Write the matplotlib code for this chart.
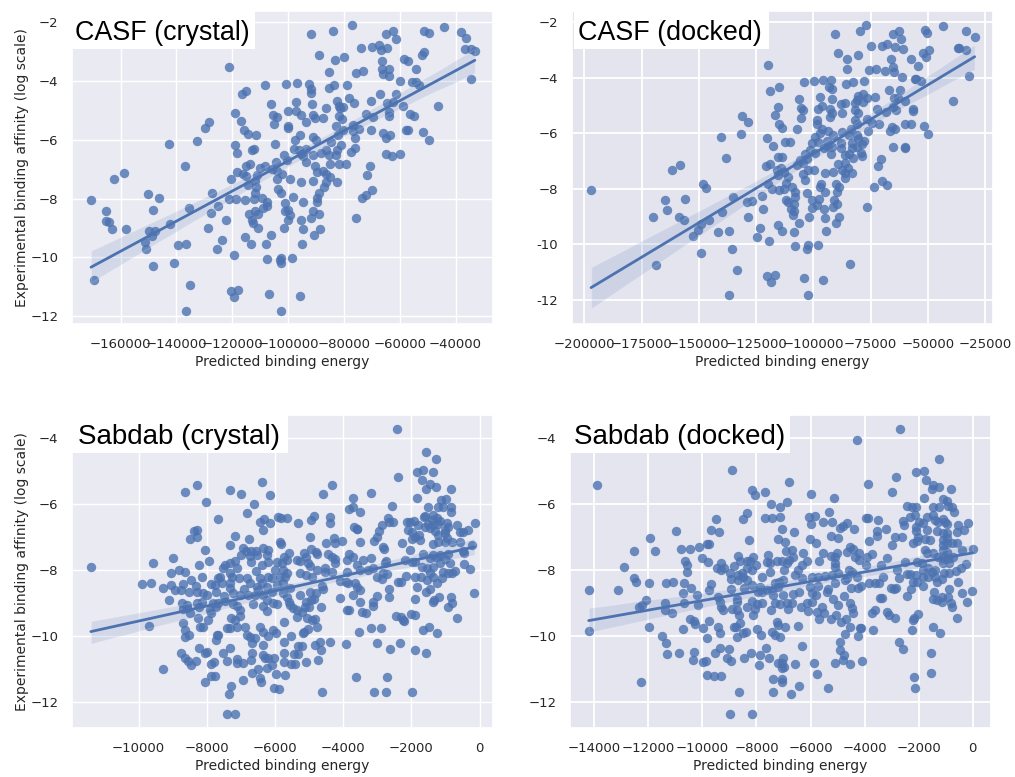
import matplotlib
matplotlib.use('Agg')
import matplotlib.pyplot as plt
from matplotlib.patches import Rectangle
import numpy as np
import seaborn as sns

# values: (predicted energy in thousands, log affinity)
casf_crystal = [
    (-170.6,-8.06),(-169.7,-10.78),(-165.3,-8.41),(-165.3,-8.75),(-164.2,-8.8),(-162.9,-9.02),(-162.3,-7.33),
    (-158.7,-7.13),(-157.9,-9.02),(-150.2,-7.84),(-148.4,-8.38),(-146.1,-7.98),(-151.2,-9.48),(-150.8,-9.72),
    (-149.7,-9.1),(-148.9,-9.28),(-147.5,-9.1),(-148.4,-10.31),(-142.3,-8.86),(-142.8,-6.13),(-139.6,-9.57),
    (-140.8,-10.2),(-137,-6.89),(-136.7,-9.53),(-136.6,-11.83),(-135.3,-10.93),(-135.4,-8.31),(-132.5,-6.03),
    (-129.7,-5.58),(-128.4,-5.38),(-127.2,-7.82),(-127.6,-8.49),(-128.8,-9.01),(-125.1,-8.26),(-125.4,-9.73),
    (-123.8,-9.41),(-122.4,-8.74),(-121.3,-8.02),(-121,-3.53),(-120.4,-7.33),(-119,-5.07),(-119,-6.18),
    (-118.3,-6.45),(-118.2,-7.1),(-118.7,-8.02),(-119.2,-9.91),(-120.4,-11.16),(-118,-11.11),(-119.3,-11.34),
    (-116.8,-5.34),(-116.4,-4.45),(-114.9,-4.32),(-115.7,-5.65),(-114.4,-5.81),(-111.4,-5.83),(-112.8,-6.34),
    (-112.1,-6.32),(-115.2,-6.88),(-113.5,-6.83),(-116.2,-7.15),(-114.9,-7.24),(-114.3,-7.53),(-115.6,-8.06),
    (-115.5,-9.32),(-113.3,-9.53),(-113.9,-8.52),(-112.8,-8.74),(-112.5,-8.83),(-110.7,-8.99),(-112,-8.42),
    (-110.7,-8.52),(-112.2,-8.01),(-111.9,-7.82),(-111.5,-7.6),(-111.9,-7.4),(-111,-7.2),(-110.1,-6.94),
    (-108.3,-6.9),(-109.5,-7.97),(-108.9,-8.31),(-107.7,-8.11),(-107.5,-8.25),(-108.2,-4.14),(-106,-4.77),
    (-105.4,-5.14),(-104.1,-5.22),(-105,-5.45),(-104.6,-6.14),(-107.9,-9.53),(-106,-9.23),(-107.7,-10.07),
    (-106.7,-11.24),(-102.4,-11.83),(-102.6,-10.01),(-102.8,-10.1),(-102.6,-10.19),(-101.6,-9.01),(-98.5,-10.01),
    (-100.7,-4.09),(-96.8,-4.07),(-100.1,-5.03),(-100.2,-5.53),(-100.1,-5.61),(-97.1,-4.7),(-97.2,-5.02),
    (-95.5,-5.14),(-93.6,-5.39),(-97.6,-5.99),(-95.6,-5.84),(-101.4,-6.5),(-100.4,-6.67),(-104.2,-6.74),
    (-105.8,-6.98),(-104,-7.07),(-102.3,-7.16),(-104,-7.32),(-99.2,-7.34),(-103.5,-7.68),(-102.6,-7.82),
    (-101.1,-8.16),(-98.4,-7.94),(-100,-8.38),(-101.1,-8.41),(-99.3,-8.57),(-99.9,-8.72),(-95.3,-7.43),
    (-94.8,-8.11),(-95.2,-8.74),(-94.8,-9.05),(-95,-9.53),(-95.9,-11.33),(-98,-6.32),(-96.2,-6.34),
    (-95.3,-6.49),(-94.5,-6.55),(-93.5,-6.3),(-93.5,-6.75),(-91,-6.5),(-92.5,-4.09),(-91.8,-2.41),
    (-91.8,-4.28),(-91.8,-4.39),(-91.5,-4.77),(-91,-5.16),(-90.5,-5.26),(-89.1,-3.11),(-91,-5.91),
    (-90,-5.99),(-90.4,-6.89),(-89.7,-7.11),(-91.1,-7.41),(-89.1,-7.81),(-89.5,-7.97),(-89.8,-8.11),
    (-91,-8.41),(-91.9,-8.67),(-88.9,-8.53),(-88.6,-9.02),(-90.7,-9.25),(-88.2,-6.43),(-86.6,-6.35),
    (-87.6,-7.06),(-87.2,-7.61),(-86.6,-7.17),(-86.4,-7.43),(-85,-7.27),(-82.6,-7.42),(-85.3,-3.69),
    (-84,-2.3),(-83.2,-3.28),(-80.1,-3.17),(-85.5,-4.22),(-83.7,-4.14),(-86.6,-4.91),(-87.4,-5.25),
    (-82.4,-4.66),(-81.8,-4.84),(-80.5,-4.88),(-81.4,-4.93),(-81.9,-5.17),(-80.7,-5.28),(-82.9,-5.53),
    (-80.4,-5.65),(-82.2,-5.84),(-84.7,-6.06),(-81,-6.16),(-82.4,-6.35),(-85.3,-6.52),(-82.9,-6.53),
    (-84.9,-6.81),(-81.7,-6.81),(-79.3,-6.83),(-78.8,-4.12),(-77.1,-2.08),(-78.2,-4.57),(-76.4,-4.73),
    (-76.9,-5.5),(-76.7,-5.69),(-74.5,-5.63),(-75.9,-5.93),(-76.2,-6.28),(-77.6,-6.42),(-74,-2.86),
    (-75.7,-3.72),(-73,-3.67),(-69.9,-2.84),(-72.2,-5.13),(-69.6,-5.22),(-70.4,-4.67),(-70.4,-5.65),
    (-70.7,-6.9),(-71.6,-7.2),(-70.1,-7.7),(-72,-7.89),(-73.6,-7.97),(-75.5,-8.66),(-67.3,-2.77),
    (-66.8,-2.94),(-64.7,-2.86),(-65.1,-2.41),(-62.6,-2.3),(-61.3,-2.58),(-66.2,-3.32),(-66.2,-3.6),
    (-65.9,-3.76),(-63.8,-3.58),(-63.9,-3.82),(-67.1,-4.42),(-64.7,-4.75),(-62.3,-4.7),(-61.4,-4.44),
    (-63.8,-5.05),(-63.8,-5.18),(-65.9,-5.78),(-64.9,-5.92),(-63.4,-5.83),(-65.1,-6.48),(-62.7,-6.55),
    (-59.9,-6.48),(-59.8,-3.98),(-58.5,-3.24),(-57.2,-3.3),(-54.2,-3.59),(-55.5,-4.02),(-54.2,-4.03),
    (-53,-4.13),(-58.7,-4.83),(-56.3,-5.13),(-54.9,-5.19),(-57.8,-5.66),(-57.1,-5.67),(-51.5,-5.74),
    (-49.4,-6.02),(-52,-3.11),(-51.2,-2.99),(-51.3,-2.28),(-49.6,-2.36),(-46.3,-4.84),(-44.2,-2.14),
    (-37.9,-2.32),(-36.2,-2.53),(-36.7,-2.91),(-34.5,-2.9),(-33.1,-2.97),(-34.6,-3.94),
]

casf_docked = [
    (-197,-8.05),(-170.1,-9.01),(-168.8,-10.76),(-164.9,-8.4),(-163.7,-8.76),(-161.8,-7.33),(-158,-7.13),
    (-158.5,-9.01),(-156.4,-9.11),(-155.9,-8.36),(-152.5,-9.7),(-150.2,-9.47),(-149.2,-9.26),(-148.9,-10.31),
    (-148,-7.82),(-147,-7.97),(-145.4,-9.11),(-141.6,-9.55),(-140.2,-6.12),(-139.9,-8.85),(-138.1,-6.87),
    (-136.7,-9.53),(-136.7,-11.81),(-135.6,-10.16),(-135,-8.31),(-133.2,-10.92),(-131.6,-6.03),(-131.3,-5.37),
    (-128.5,-5.58),(-129,-8.48),(-126.9,-8.43),(-128.5,-9.01),(-124.6,-9.73),(-123.1,-9.41),(-122.5,-8.27),
    (-122.1,-8.73),(-120.7,-7.16),(-120.1,-6.18),(-119.6,-3.54),(-120.1,-11.15),(-119.5,-9.89),(-118.8,-4.46),
    (-118.8,-7.09),(-119.6,-7.81),(-118.2,-8.01),(-118.5,-11.34),(-116.6,-11.1),(-117.7,-6.44),(-116.7,-5.35),
    (-115.3,-5.06),(-114.8,-4.32),(-115.1,-5.66),(-113.7,-5.81),(-115.6,-6.86),(-113.8,-6.84),(-116,-7.32),
    (-114.3,-7.26),(-115.3,-7.5),(-112.8,-7.38),(-115.1,-8.05),(-112.8,-8.01),(-112.4,-6.32),(-110.2,-6.31),
    (-115.6,-9.31),(-113.8,-9.53),(-112.1,-8.4),(-110.9,-7.58),(-111.9,-7.8),(-109.5,-7.93),(-108,-8.12),
    (-108,-8.28),(-110.9,-8.49),(-108.3,-8.53),(-109.7,-8.73),(-108.6,-8.81),(-109,-8.95),(-108.6,-9.55),
    (-108.1,-10.05),(-106.4,-9.23),(-107.3,-5.83),(-106.4,-4.77),(-105.4,-5.1),(-104.4,-5.16),(-105.2,-5.45),
    (-103.9,-4.15),(-99.6,-4.11),(-95.9,-4.08),(-92.1,-4.09),(-104.1,-11.22),(-102.5,-11.81),(-102.9,-10.16),
    (-102.5,-10.03),(-98.1,-10.01),(-102.6,-8.16),(-100.6,-8.4),(-97.7,-8.37),(-100.7,-8.7),(-98.3,-8.57),
    (-95.5,-8.72),(-101.9,-9.01),(-94.9,-9.05),(-94.6,-9.53),(-95.8,-11.3),(-103.8,-7.68),(-104.7,-7.47),
    (-102.3,-7.32),(-99.9,-7.33),(-105.8,-6.96),(-103.8,-6.74),(-107.3,-7.14),(-104.4,-7.08),(-102.9,-6.91),
    (-101.5,-6.6),(-100.6,-6.33),(-99.4,-6.12),(-97.8,-6.3),(-99.3,-6.69),(-97.1,-6),(-96.4,-5.83),
    (-93.6,-5.9),(-98.5,-5.52),(-98.3,-5.65),(-97.8,-5.13),(-96.4,-5.01),(-96.9,-4.7),(-93.2,-4.32),
    (-91.9,-4.4),(-91.9,-4.77),(-92.7,-5.13),(-91.9,-5.25),(-92.7,-5.4),(-90.5,-2.42),(-89.1,-3.12),
    (-91.3,-6.06),(-94.2,-6.26),(-95.3,-6.54),(-93.5,-6.5),(-92,-6.48),(-92.3,-6.74),(-95.1,-7.43),
    (-91.3,-7.4),(-96.8,-7.82),(-97.1,-7.94),(-94.9,-8.1),(-90.1,-7.81),(-88.7,-7.94),(-89.7,-8.1),
    (-91,-8.4),(-89.5,-8.53),(-91.4,-8.67),(-88.7,-9.01),(-90.1,-9.23),(-84.1,-10.7),(-85.2,-3.31),
    (-80.5,-3.18),(-85.5,-3.69),(-85.6,-4.21),(-82.5,-4.15),(-77.9,-4.12),(-79.8,-2.3),(-77.2,-2.1),
    (-74.8,-2.86),(-75.6,-3.73),(-72.6,-3.69),(-87.9,-4.94),(-86.3,-4.9),(-87.3,-5.25),(-80.7,-4.65),
    (-78.3,-4.58),(-76.7,-4.73),(-81.1,-4.8),(-82,-4.92),(-78.3,-4.88),(-81.7,-5.16),(-80.4,-5.28),
    (-82,-5.52),(-81.1,-5.66),(-76.4,-5.49),(-74.5,-5.61),(-76.1,-5.93),(-72.9,-4.68),(-72.4,-5.11),
    (-68.3,-5.23),(-71.2,-5.66),(-83.7,-5.85),(-87.3,-5.96),(-84.6,-6.06),(-81.1,-6.06),(-80.5,-6.18),
    (-77.9,-6.26),(-87.9,-6.33),(-87.8,-6.51),(-83,-6.33),(-83.3,-6.54),(-81.1,-6.48),(-78.8,-6.4),
    (-79.3,-6.69),(-86.2,-6.79),(-84.3,-6.74),(-82.5,-6.87),(-78.9,-6.81),(-89.1,-7.1),(-86,-7.05),
    (-84.8,-7.23),(-87.5,-7.32),(-86,-7.44),(-83.1,-7.42),(-86.2,-7.6),(-70.5,-6.91),(-71.6,-7.16),
    (-70,-7.71),(-67.8,-7.86),(-73.4,-7.95),(-76.6,-8.65),(-70.2,-2.85),(-67.7,-2.79),(-64.2,-2.88),
    (-65.4,-2.42),(-62.5,-2.31),(-61.9,-2.59),(-60.9,-2.95),(-66.2,-3.32),(-65.1,-3.6),(-68.6,-3.76),
    (-64.6,-3.8),(-61.2,-3.98),(-67,-4.42),(-62.2,-4.45),(-64.8,-4.74),(-62.9,-4.72),(-60,-4.82),
    (-65.1,-5.04),(-63.9,-5.17),(-65.8,-5.76),(-64.4,-5.84),(-66.5,-5.91),(-65.1,-6.48),(-60.1,-6.48),
    (-59.8,-6.54),(-59.8,-5.66),(-57.2,-5.67),(-56.4,-5.11),(-56.4,-5.18),(-57.2,-3.31),(-54.5,-3.58),
    (-55.6,-4.03),(-55.2,-4.05),(-53.2,-4.12),(-52,-3.12),(-51,-3.24),(-49.4,-3.01),(-51.1,-2.29),
    (-50.4,-2.38),(-51.6,-5.73),(-49.8,-6.01),(-38.9,-4.83),(-43.3,-2.14),(-33.5,-2.32),(-29.6,-2.53),
    (-36.9,-2.91),(-36.3,-2.91),(-33.4,-2.98),(-32.1,-3.93),
]

sabdab_crystal = [
    (-11.4,-7.9),(-9.91,-8.44),(-9.65,-8.4),(-9.69,-9.71),(-9.57,-7.79),(-9.29,-8.55),(-9.29,-11.0),(-9.1,-8.92),
    (-9.06,-8.45),(-9.04,-8.09),(-9.0,-7.65),(-8.94,-8.6),(-8.81,-8.01),(-8.77,-8.6),(-8.65,-8.07),(-8.69,-8.44),
    (-8.64,-5.63),(-8.28,-5.41),(-8.01,-5.93),(-8.38,-6.81),(-8.28,-6.78),(-8.28,-7.01),(-8.49,-7.06),(-8.06,-7.38),
    (-8.23,-7.85),(-7.94,-7.72),(-8.15,-8.2),(-8.47,-8.31),(-8.33,-8.48),(-8.53,-8.68),(-8.3,-8.67),(-8.1,-8.71),
    (-7.99,-8.76),(-8.73,-9.01),(-8.59,-9.06),(-8.71,-9.18),(-8.59,-9.16),(-8.49,-9.32),(-8.3,-9.01),(-8.22,-9.11),
    (-8.15,-8.96),(-8.71,-9.62),(-8.63,-9.82),(-8.63,-10.03),(-8.52,-9.97),(-8.26,-9.47),(-8.2,-9.72),(-8.12,-9.73),
    (-7.96,-9.52),(-7.91,-9.22),(-7.89,-9.32),(-8.23,-10.36),(-8.76,-10.52),(-8.64,-10.68),(-8.54,-10.75),(-8.45,-10.89),
    (-8.33,-10.76),(-8.06,-10.53),(-8,-10.5),(-8.06,-11.39),(-7.89,-10.86),(-7.78,-10.8),(-7.88,-11.22),(-7.76,-11.22),
    (-7.66,-6.45),(-7.88,-8.44),(-7.76,-8.46),(-7.66,-8.25),(-7.61,-8.22),(-7.57,-8.4),(-7.73,-8.68),(-7.81,-9.01),
    (-7.66,-8.99),(-7.73,-9.11),(-7.71,-9.97),(-7.66,-9.99),(-7.73,-10.13),(-7.54,-10.53),(-7.4,-10.75),(-7.32,-10.38),
    (-7.28,-11.52),(-7.35,-11.78),(-7.42,-12.39),(-7.16,-12.39),(-7.32,-5.57),(-7,-5.7),(-6.61,-5.98),(-6.82,-6.28),
    (-6.38,-5.34),(-6.16,-5.73),(-6.45,-6.54),(-6.31,-6.46),(-6.16,-6.57),(-6.34,-6.78),(-7.18,-6.97),(-6.75,-7.07),
    (-7.32,-7.24),(-6.93,-7.32),(-6.85,-7.41),(-6.99,-7.54),(-6.71,-7.42),(-6.56,-7.41),(-6.74,-7.57),(-6.71,-7.75),
    (-6.54,-7.54),(-6.34,-7.34),(-6.25,-7.54),(-6.2,-7.39),(-7.52,-7.95),(-7.47,-7.85),(-7.32,-7.8),(-7.18,-7.73),
    (-7.11,-7.93),(-6.56,-8.02),(-6.39,-7.85),(-6.2,-7.77),(-7.32,-8.1),(-7.27,-8.22),(-7.07,-8.25),(-7.32,-8.4),
    (-7.32,-8.56),(-6.82,-8.23),(-6.73,-8.4),(-6.45,-8.25),(-6.2,-8.2),(-6.1,-8.25),(-7.5,-8.78),(-7.23,-8.71),
    (-7.47,-8.94),(-7.03,-8.76),(-6.91,-8.58),(-6.78,-8.76),(-6.54,-8.51),(-6.49,-8.61),(-6.37,-8.4),(-6.25,-8.51),
    (-6.59,-8.76),(-6.36,-8.76),(-6.1,-8.66),(-7.22,-9.03),(-7.13,-9.09),(-7.03,-9.22),(-6.66,-9.04),(-6.25,-8.91),
    (-6.34,-9.09),(-6.23,-9.24),(-6.05,-9.01),(-5.95,-9.03),(-7.3,-9.47),(-7.03,-9.4),(-7.18,-9.52),(-7.4,-9.77),
    (-7.32,-9.75),(-7.13,-9.72),(-6.88,-9.72),(-6.83,-9.97),(-6.73,-10.03),(-6.59,-10.08),(-6.69,-10.23),(-6.44,-9.74),
    (-6.34,-9.87),(-6.2,-10),(-6.05,-9.82),(-5.97,-9.92),(-6.34,-10.29),(-6.69,-10.53),(-6.71,-10.73),(-7.13,-10.7),
    (-7.13,-10.84),(-6.93,-10.82),(-6.34,-10.58),(-6.3,-10.68),(-6.2,-10.68),(-6.03,-10.68),(-6.1,-10.89),(-6.25,-10.97),
    (-6.51,-11.01),(-6.67,-11.14),(-6.44,-11.29),(-6.42,-11.4),(-6.93,-11.34),(-5.96,-11.17),(-6.04,-11.6),(-5.88,-11.62),
    (-5.7,-11.19),(-5.74,-10.8),(-5.75,-10.53),(-5.74,-10.18),(-5.73,-9.57),(-5.54,-10),(-5.54,-10.86),(-5.41,-10.86),
    (-5.43,-10.56),(-5.32,-10.56),(-5.34,-10.31),(-5.2,-10.31),(-5.1,-10.8),(-4.75,-10.74),(-4.84,-10.28),(-4.67,-10.2),
    (-4.66,-10.43),(-4.63,-11.7),(-4.39,-10.2),(-3.93,-10.25),(-3.64,-11.24),(-3.09,-11.72),(-2.75,-11.71),(-2.72,-11.24),
    (-1.97,-11.72),(-1.9,-10.42),(-1.58,-10.53),(-2.63,-10.41),(-2.35,-10.23),(-3.02,-10.23),(-3.54,-9.89),(-3.2,-9.77),
    (-2.88,-9.77),(-1.65,-9.82),(-1.5,-9.72),(-1.24,-9.91),(-0.65,-9.45),(-2.45,-9.4),(-2.32,-9.42),(-2.26,-9.52),
    (-2.21,-9.54),(-2,-9.35),(-1.9,-9.37),(-3.45,-9.29),(-3.34,-9.32),(-3.9,-9.22),(-3.84,-9.23),(-3.14,-8.96),
    (-3.14,-9.08),(-3,-8.79),(-2.66,-8.83),(-2.66,-8.57),(-4.11,-8.84),(-3.72,-8.76),(-3.51,-8.61),(-3.52,-8.96),
    (-1.9,-8.88),(-1.83,-8.51),(-1.58,-8.66),(-1.46,-8.58),(-1.36,-8.96),(-1.33,-8.91),(-1.2,-8.81),(-0.92,-9.11),
    (-0.82,-9.01),(-0.84,-8.81),(-0.17,-8.71),(-5.86,-7.14),(-5.83,-7.21),(-5.74,-7.59),(-5.58,-7.49),(-5.95,-7.75),
    (-5.81,-7.8),(-5.66,-7.7),(-6.0,-8),(-5.76,-8),(-5.66,-8.1),(-5.86,-8.2),(-5.71,-8.2),(-5.95,-8.46),
    (-5.76,-8.4),(-5.56,-8.56),(-5.76,-8.71),(-5.64,-8.83),(-5.6,-8.96),(-5.46,-9.16),(-5.56,-9.06),(-5.37,-9.22),
    (-5.37,-9.42),(-5.22,-9.27),(-5.27,-8.76),(-5.34,-6.58),(-5.9,-6.38),(-5.84,-6.43),(-5.65,-6.42),(-4.96,-6.48),
    (-4.87,-6.36),(-4.98,-7.01),(-4.94,-7.36),(-5.15,-7.47),(-5.37,-7.7),(-5.27,-7.73),(-5.08,-7.6),(-4.8,-7.46),
    (-4.78,-7.51),(-5.03,-7.8),(-4.98,-7.87),(-5.27,-8.1),(-5.1,-8.15),(-4.93,-8.2),(-4.76,-8.01),(-4.53,-7.95),
    (-4.54,-8.06),(-4.34,-8.07),(-4.63,-8.49),(-4.6,-8.58),(-4.98,-8.66),(-4.8,-8.71),(-5.08,-8.96),(-4.96,-8.91),
    (-4.86,-8.89),(-5.13,-9.11),(-5.0,-9.11),(-4.65,-9.11),(-5.07,-9.47),(-4.93,-9.52),(-4.83,-9.5),(-4.78,-9.72),
    (-5.02,-9.79),(-5.15,-9.89),(-5.19,-9.92),(-4.52,-7.17),(-4.4,-6.4),(-4.38,-6.58),(-4.59,-5.69),(-4.34,-5.41),
    (-4.26,-7.04),(-4.24,-7.17),(-4.05,-7.13),(-4.44,-7.52),(-4.34,-7.6),(-4.24,-7.68),(-4.24,-7.8),(-4.1,-8.34),
    (-3.9,-8.05),(-3.93,-8.35),(-3.9,-7.7),(-3.83,-7.52),(-3.71,-7.6),(-3.85,-8.4),(-3.65,-8.38),(-3.61,-8.51),
    (-3.72,-5.8),(-3.83,-6.16),(-3.72,-6.1),(-3.52,-6.23),(-3.69,-6.7),(-3.61,-6.74),(-3.59,-6.76),(-3.51,-7.15),
    (-3.2,-5.65),(-3.59,-7.85),(-3.43,-7.7),(-3.51,-8),(-3.2,-7.65),(-3.27,-8),(-3.12,-7.95),(-3.1,-7.11),
    (-3.02,-6.99),(-2.94,-6.81),(-2.85,-6.63),(-2.7,-6.43),(-2.66,-6.53),(-2.53,-6.53),(-2.57,-6.06),(-2.84,-7.29),
    (-2.81,-7.36),(-2.75,-7.72),(-2.78,-7.8),(-3.02,-8.2),(-2.87,-8.27),(-2.83,-8.1),(-2.71,-8.12),(-2.39,-8.35),
    (-2.32,-8.35),(-2.17,-8.18),(-2.43,-3.71),(-2.39,-5.16),(-2.27,-7.19),(-2.04,-7.39),(-2.19,-7.7),(-1.99,-7.75),
    (-1.9,-7.75),(-2.14,-6.53),(-2.04,-6.53),(-1.93,-6.5),(-1.8,-6.63),(-2.11,-6.78),(-1.99,-7.07),(-1.9,-6.99),
    (-1.77,-6.94),(-1.99,-6.84),(-1.75,-7.09),(-1.84,-5.01),(-1.66,-4.96),(-1.7,-5.27),(-1.58,-4.41),(-1.28,-4.63),
    (-1.36,-5.03),(-1.57,-5.54),(-1.47,-5.4),(-1.28,-5.49),(-0.85,-5.54),(-1.84,-5.8),(-1.51,-6.1),(-1.6,-6.35),
    (-1.62,-6.4),(-1.14,-5.87),(-1,-5.84),(-1.21,-6.1),(-1.07,-6.08),(-0.84,-6.1),(-0.83,-6.24),(-1.36,-6.33),
    (-1.26,-6.43),(-1.41,-6.48),(-1.16,-6.5),(-1.51,-6.6),(-1.36,-6.63),(-1.6,-6.68),(-1.21,-6.6),(-0.97,-6.56),
    (-0.92,-6.68),(-1.46,-6.73),(-1.31,-6.81),(-1.02,-6.78),(-0.67,-6.64),(-0.58,-6.86),(-0.48,-6.86),(-0.35,-6.78),
    (-0.15,-6.56),(-1.21,-6.94),(-1.02,-6.89),(-0.97,-7.04),(-1.36,-7.21),(-1.21,-7.14),(-1.02,-7.14),(-0.82,-7.16),
    (-0.58,-7.16),(-0.46,-7.49),(-0.23,-7.24),(-0.48,-7.41),(-1.65,-7.51),(-1.36,-7.54),(-1.16,-7.54),(-0.92,-7.51),
    (-1.46,-7.65),(-1.26,-7.65),(-1.02,-7.68),(-1.7,-7.9),(-1.55,-7.95),(-1.36,-7.9),(-1.16,-7.8),(-0.87,-7.8),
    (-0.46,-7.82),(-0.29,-7.96),(-0.72,-8.03),(-1.9,-8.2),(-1.73,-8.2),(-1.53,-8.3),(-1.46,-8.1),(-1.36,-8.2),
    (-1.26,-8.4),(-1.11,-8.25),(-1.07,-8.07),(-0.92,-8.1),(-0.82,-8.1),
]

sabdab_docked = [
    (-14.21,-8.61),(-14.19,-9.86),(-13.9,-5.41),(-13.14,-8.61),(-12.9,-7.9),(-12.53,-7.41),(-12.54,-8.23),(-12.46,-8.36),
    (-12.29,-11.4),(-12.35,-9.11),(-12.22,-9.06),(-12.1,-8.92),(-11.99,-8.39),(-11.96,-9.72),(-11.94,-7.02),(-11.74,-7.41),
    (-11.48,-10),(-11.36,-10.23),(-11.32,-10.55),(-11.36,-8.4),(-11.1,-8.36),(-11.4,-9.01),(-11.39,-9.22),(-11.11,-9.31),
    (-10.98,-6.8),(-10.79,-7.35),(-10.45,-7.36),(-10.14,-7.29),(-10.63,-7.72),(-10.56,-7.85),(-10.58,-8.05),(-10.68,-8.39),
    (-10.72,-8.71),(-10.69,-9.01),(-10.41,-8.56),(-10.2,-8.76),(-10.16,-9.06),(-10.45,-9.48),(-10.31,-9.55),(-10.26,-9.63),
    (-10.72,-9.8),(-10.85,-10.52),(-10.31,-10.5),(-10.34,-10.72),(-9.98,-9.75),(-9.76,-9.54),(-9.83,-10.06),(-9.99,-10.8),
    (-9.87,-10.76),(-9.82,-11.2),(-9.56,-11.22),(-9.32,-11.22),(-9.55,-10.53),(-9.35,-10.38),(-9.02,-10.41),(-9.09,-10.68),
    (-8.94,-10.75),(-8.98,-12.39),(-8.17,-12.39),(-8.66,-11.72),(-8.45,-10.68),(-8.2,-10.52),(-7.91,-10.89),(-7.87,-10.58),
    (-7.66,-10.36),(-7.54,-10.68),(-7.4,-11.3),(-7.39,-11.72),(-7.07,-11.32),(-7.07,-11.39),(-6.72,-11.77),(-6.43,-11.52),
    (-6.56,-10.86),(-7.19,-10.84),(-7.01,-10.68),(-7.07,-10.84),(-6.98,-10.94),(-7.04,-10.99),(-6.33,-10.31),(-5.86,-10.82),
    (-5.77,-11.17),(-5.37,-11.6),(-5.09,-10.82),(-4.79,-10.73),(-4.54,-10.86),(-4.08,-10.78),(-4.76,-10.58),(-4.91,-10.43),
    (-4.92,-10.18),(-4.71,-9.95),(-4.54,-9.72),(-4.17,-9.77),(-4.13,-9.77),(-4.23,-10),(-4.68,-9.49),(-4.87,-9.57),
    (-5.06,-9.37),(-5.25,-9.49),(-5.49,-9.32),(-5.67,-9.49),(-5.75,-9.27),(-5.59,-9.11),(-5.16,-8.89),(-5,-9.06),
    (-5.4,-8.66),(-5.34,-8.59),(-4.77,-8.78),(-4.51,-8.56),(-4.23,-8.56),(-4.13,-8.49),(-4.54,-9.01),(-4.47,-9.14),
    (-4.42,-9.32),(-3.6,-9.22),(-3.74,-9.32),(-3.69,-9.82),(-3.43,-8.86),(-3.34,-8.84),(-3.18,-9.29),(-3.1,-9.37),
    (-2.89,-9.47),(-2.71,-10.2),(-2.57,-10.41),(-2.23,-9.82),(-2.2,-9.52),(-2.17,-9.47),(-2.01,-9.35),(-1.46,-9.72),
    (-1.2,-9.92),(-1.54,-10.53),(-1.55,-11.14),(-2.17,-11.24),(-2.15,-11.6),(-0.59,-9.45),(-0.75,-9.11),(-0.8,-9.01),
    (-1.12,-8.96),(-1.46,-8.88),(-1.33,-8.91),(-1.12,-8.81),(-0.9,-8.81),(-0.89,-8.58),(-1.43,-8.66),(-0.22,-8.96),
    (-0.38,-8.71),(-0.01,-8.65),(-0.56,-8.36),(-2.42,-8.78),(-2.28,-8.58),(-3.02,-8.56),(-2.91,-8.59),(-2.84,-8.56),
    (-2.73,-8.25),(-2.81,-8),(-3.82,-8.39),(-3.61,-8.4),(-3.45,-8.39),(-3.31,-8.2),(-3.4,-7.85),(-3.17,-7.63),
    (-3.74,-7.51),(-3.92,-7.6),(-3.96,-7.85),(-4.21,-7.7),(-4.19,-7.49),(-4.35,-7.6),(-4.29,-8.2),(-4.56,-8),
    (-4.48,-8.07),(-4.72,-8.3),(-4.66,-8.23),(-5.09,-8.4),(-5.22,-8.15),(-4.97,-8.1),(-5.09,-7.8),(-5.09,-7.9),
    (-5.01,-7.49),(-5.25,-7.57),(-5.09,-7.6),(-5.53,-7.47),(-5.67,-7.73),(-4.66,-7.45),(-4.54,-7.29),(-4.42,-7.37),
    (-3.82,-7.12),(-5.25,-6.97),(-4.97,-7.04),(-6.02,-7.06),(-5.8,-7.17),(-6.27,-7.47),(-6.14,-7.72),(-6.33,-7.85),
    (-6.45,-8),(-6.57,-8.15),(-6.33,-8.25),(-5.96,-8.2),(-5.71,-8.2),(-5.46,-8.18),(-6.02,-8.51),(-5.71,-8.49),
    (-5.96,-8.71),(-5.8,-8.76),(-6.64,-8.73),(-6.41,-8.66),(-6.14,-9.01),(-5.96,-8.96),(-6.36,-9.11),(-6.08,-9.24),
    (-6.48,-9.69),(-6.7,-9.01),(-6.88,-9.01),(-6.85,-9.18),(-7.13,-9.03),(-7.31,-9.01),(-7.47,-9.22),(-7.25,-9.57),
    (-7.19,-9.67),(-6.96,-9.74),(-7.44,-9.87),(-7.31,-9.97),(-7.13,-10.05),(-7.99,-9.8),(-7.85,-9.96),(-8.39,-9.89),
    (-8.49,-9.92),(-8.73,-10.03),(-8.83,-9.74),(-8.77,-9.74),(-8.61,-9.61),(-8.66,-9.38),(-8.92,-9.18),(-8.73,-9.22),
    (-8.14,-9.37),(-8.05,-9.2),(-8.36,-9.11),(-8.18,-8.94),(-7.99,-9.03),(-7.81,-9.01),(-8.73,-8.96),(-8.73,-8.89),
    (-9.42,-8.81),(-9.35,-8.96),(-9.3,-9.11),(-9.23,-9.22),(-9.42,-9.72),(-9.34,-9.91),(-9.76,-8.61),(-9.68,-8.43),
    (-8.94,-8.59),(-8.45,-8.54),(-8.18,-8.46),(-7.93,-8.66),(-7.87,-8.51),(-7.78,-8.66),(-7.62,-8.61),(-7.44,-8.61),
    (-7.31,-8.4),(-7.19,-8.51),(-7.01,-8.76),(-7.38,-8.76),(-7.01,-8.3),(-7.15,-8.36),(-7.81,-8.2),(-7.5,-8.05),
    (-6.97,-8),(-8.97,-8.1),(-8.95,-8.27),(-8.83,-7.87),(-8.67,-8.15),(-8.55,-8.1),(-8.67,-8.3),(-8.49,-8.2),
    (-8.34,-8.3),(-8.36,-7.95),(-8.18,-8),(-8.02,-7.85),(-8.24,-7.73),(-8.12,-7.6),(-8.36,-7.72),(-8.61,-7.72),
    (-8.68,-7.57),(-9.45,-7.93),(-9.32,-7.8),(-9.2,-7.95),(-9.32,-8),(-10,-7.65),(-9.81,-7.75),(-9.82,-7.22),
    (-9.76,-7.2),(-9.7,-6.78),(-9.37,-6.83),(-9.51,-6.45),(-8.36,-6.28),(-8.49,-6.45),(-8.26,-7.1),(-8.92,-4.96),
    (-8.18,-5.57),(-8.05,-5.71),(-7.7,-5.63),(-7.46,-5.98),(-7.14,-6.09),(-6.88,-5.93),(-6.8,-5.34),(-7.68,-6.42),
    (-7.43,-6.42),(-7.13,-6.39),(-7.07,-6.75),(-6.6,-6.86),(-7.19,-7.05),(-6.94,-7.14),(-6.92,-7.41),(-6.7,-7.39),
    (-6.64,-7.6),(-7.56,-7.54),(-7.62,-7.75),(-7.5,-7.8),(-7.25,-7.72),(-7.07,-7.73),(-6.88,-7.8),(-6.8,-7.7),
    (-5.97,-5.68),(-5.14,-5.8),(-6.04,-6.4),(-5.83,-6.36),(-5.98,-6.6),(-5.55,-6.53),(-5.33,-6.23),(-5.22,-6.53),
    (-4.91,-6.71),(-4.79,-6.66),(-4.64,-6.57),(-4.38,-6.75),(-4.29,-4.05),(-2.68,-3.71),(-3.89,-5.4),(-3.95,-6.42),
    (-3.86,-6.43),(-3.49,-6.48),(-3.55,-6.81),(-3.53,-6.96),(-3.21,-6.75),(-2.87,-7.01),(-3,-7.25),(-2.6,-6.99),
    (-2.99,-5.64),(-2.85,-5.16),(-2.59,-6.5),(-2.54,-6.63),(-2.44,-6.06),(-2.26,-6.1),(-2.1,-6.1),(-2.32,-6.38),
    (-2.13,-6.33),(-2.1,-5.03),(-1.81,-5),(-1.71,-5.27),(-1.26,-4.63),(-1.79,-5.8),(-1.46,-5.42),(-1.52,-5.55),
    (-1.23,-5.49),(-0.81,-5.54),(-1.11,-5.84),(-0.96,-5.9),(-0.9,-6.06),(-0.78,-6.1),(-0.69,-6.24),(-1.46,-6.1),
    (-1.25,-6.1),(-1.46,-6.33),(-1.7,-6.38),(-1.39,-6.48),(-1.11,-6.46),(-1.27,-6.53),(-1.02,-6.53),(-0.94,-6.61),
    (-1.97,-6.53),(-1.83,-6.56),(-2.1,-6.68),(-2.1,-6.81),(-1.7,-6.78),(-1.33,-6.81),(-1.09,-6.89),(-0.96,-6.89),
    (-0.53,-6.63),(-0.59,-6.86),(-0.32,-6.78),(-0.16,-6.57),(-2.01,-6.99),(-1.76,-7.07),(-1.58,-7.09),(-2.22,-7.19),
    (-2.07,-7.11),(-1.09,-7.09),(-0.96,-7.04),(-1.09,-7.24),(-0.96,-7.19),(-0.78,-7.17),(-0.57,-7.17),(-0.41,-7.39),
    (0,-7.37),(-1.76,-7.39),(-1.7,-7.49),(-1.46,-7.49),(-1.09,-7.39),(-0.96,-7.44),(-1.27,-7.6),(-1.09,-7.65),
    (-0.9,-7.65),(-0.72,-7.6),(-2.5,-7.75),(-2.07,-7.77),(-1.89,-7.8),(-1.09,-7.8),(-0.86,-7.8),(-0.26,-7.82),
    (-0.44,-7.95),(-0.63,-8.03),(-2.44,-8.12),(-2.32,-8.12),(-2.1,-8.15),(-1.83,-8),(-1.64,-7.95),(-1.52,-8.05),
    (-1.39,-8),(-1.83,-8.2),(-1.64,-8.2),(-1.39,-8.2),(-1.15,-8.27),(-1.33,-8.35),(-1.06,-8.08),(-0.86,-8.1),
    (-2.2,-8.35),(-2.05,-8.35),(-1.83,-8.49),
]

titles = ['CASF (crystal)', 'CASF (docked)', 'Sabdab (crystal)', 'Sabdab (docked)']
datasets = [casf_crystal, casf_docked, sabdab_crystal, sabdab_docked]
xticks = [
    [-160000, -140000, -120000, -100000, -80000, -60000, -40000],
    [-200000, -175000, -150000, -125000, -100000, -75000, -50000, -25000],
    [-10000, -8000, -6000, -4000, -2000, 0],
    [-14000, -12000, -10000, -8000, -6000, -4000, -2000, 0],
]
yticks = [[-12, -10, -8, -6, -4, -2], [-12, -10, -8, -6, -4, -2], [-12, -10, -8, -6, -4], [-12, -10, -8, -6, -4]]

W, H = 1015, 777
# left, right, top, bottom in pixels
boxes = [(72.3, 493, 11, 324.3), (572.3, 993, 11, 324.3), (72.3, 493, 415, 728.3), (570.3, 991, 415, 728.3)]
xlims = [(-177300, -26600), (-205200, -21600), (-11945, 391), (-14890, 678)]
ylims = [(-12.28, -1.61), (-12.88, -1.59), (-12.81, -3.29), (-12.81, -3.29)]
# white title patch: left, right, bottom pixel; text left and baseline pixel
patches = [(72, 255, 48.7, 75, 40), (574, 769, 48.7, 578, 40), (72, 288, 452.7, 77.7, 444), (570, 790, 452.7, 574, 444)]
title_sizes = [19.4, 19.4, 20, 20]
panel_bg = ['#EAEAF2', '#E4E4EF', '#EAEAF2', '#E5E5EF']

sns.set_theme(style='darkgrid')
fig = plt.figure(figsize=(W / 100, H / 100), dpi=100)

for i in range(4):
    l, r, t, b = boxes[i]
    ax = fig.add_axes([l / W, 1 - b / H, (r - l) / W, (b - t) / H])
    ax.set_facecolor(panel_bg[i])
    pts = np.array(datasets[i])
    sns.regplot(x=pts[:, 0] * 1000, y=pts[:, 1], ax=ax, color='#4C72B0', seed=0,
                scatter_kws={'s': 46, 'linewidths': 0}, line_kws={'lw': 2.0})
    ax.set_xlim(xlims[i])
    ax.set_ylim(ylims[i])
    ax.set_xticks(xticks[i])
    ax.set_yticks(yticks[i])
    ax.tick_params(labelsize=9.5, pad=4)
    ax.grid(True, color='white', lw=1.3 if i % 2 else 1.0)
    ax.set_xlabel('Predicted binding energy', fontsize=10, labelpad=3)
    if i % 2 == 0:
        ax.set_ylabel('Experimental binding affinity (log scale)', fontsize=10, labelpad=1)
    else:
        ax.set_ylabel('')
    if i == 1:
        ax.set_yticklabels(['-12', '-10', '\u22128', '\u22126', '\u22124', '\u22122'])

    x0, x1, yb, tx, ty = patches[i]
    fig.add_artist(Rectangle((x0 / W, 1 - yb / H), (x1 - x0) / W, (yb - t + 11) / H, transform=fig.transFigure,
                             facecolor='white', edgecolor='none', zorder=5))
    fig.text(tx / W, 1 - ty / H, titles[i], family='Liberation Sans', fontsize=title_sizes[i], color='black',
             ha='left', va='baseline', zorder=6)

fig.savefig('out.png', dpi=100)
